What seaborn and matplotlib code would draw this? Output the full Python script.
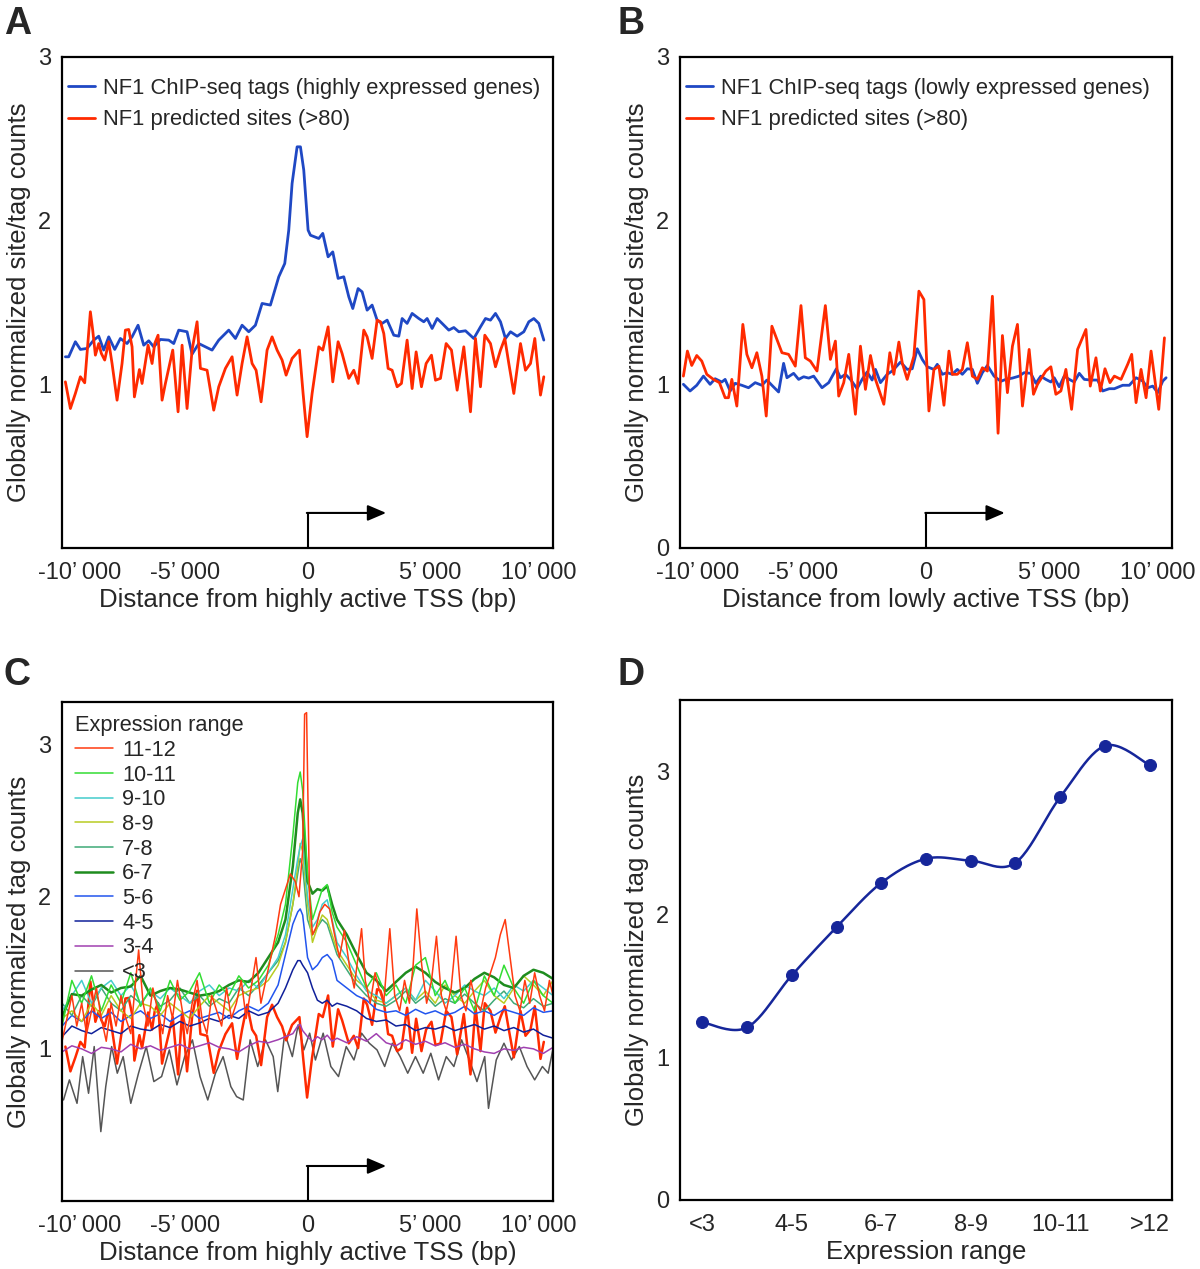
import numpy as np
import matplotlib
matplotlib.use("Agg")
import matplotlib.pyplot as plt
import matplotlib.transforms as mtransforms
from matplotlib.ticker import FixedLocator
import seaborn as sns

# ---------------- data ----------------
x_ticks = [-10000, -5000, 0, 5000, 10000]
x_tick_labels = ["-10\u2019\u2009000", "-5\u2019\u2009000", "0", "5\u2019\u2009000", "10\u2019\u2009000"]

# Panel A: highly expressed genes
a_chip_x = [-9864, -9728, -9457, -9253, -8982, -8710, -8506, -8303, -8099, -7854, -7624, -7352, -7148, -6904,
            -6673, -6469, -6266, -5994, -5654, -5451, -5247, -4908, -4704, -4432, -4161, -3889, -3617, -3210,
            -2938, -2667, -2395, -2124, -1852, -1513, -1173, -929, -766, -630, -426, -290, -155, 22, 117, 457,
            620, 837, 1027, 1244, 1475, 1679, 1842, 2059, 2222, 2426, 2629, 2833, 3037, 3241, 3512, 3716, 3852,
            4055, 4259, 4531, 4734, 4870, 5074, 5278, 5481, 5753, 5957, 6160, 6432, 6771, 7043, 7247, 7450, 7654,
            7858, 8061, 8265, 8537, 8808, 9012, 9216, 9419, 9623]
a_chip_y = [1.168, 1.168, 1.260, 1.213, 1.219, 1.270, 1.294, 1.209, 1.290, 1.213, 1.280, 1.249, 1.290, 1.361,
            1.239, 1.266, 1.229, 1.274, 1.270, 1.249, 1.331, 1.321, 1.184, 1.249, 1.229, 1.209, 1.270, 1.331,
            1.280, 1.361, 1.321, 1.361, 1.494, 1.484, 1.657, 1.738, 1.942, 2.227, 2.451, 2.451, 2.309, 1.942,
            1.911, 1.891, 1.922, 1.779, 1.809, 1.647, 1.657, 1.535, 1.463, 1.585, 1.565, 1.453, 1.484, 1.392,
            1.372, 1.392, 1.300, 1.294, 1.402, 1.372, 1.433, 1.402, 1.382, 1.402, 1.341, 1.402, 1.372, 1.331,
            1.347, 1.321, 1.327, 1.280, 1.351, 1.402, 1.392, 1.433, 1.382, 1.280, 1.321, 1.294, 1.321, 1.382,
            1.402, 1.372, 1.270]
a_pred_x = [-9864, -9660, -9457, -9253, -9077, -8846, -8751, -8642, -8506, -8398, -8262, -8099, -7963, -7759,
            -7556, -7420, -7284, -7148, -7053, -6849, -6741, -6496, -6333, -6225, -6089, -5926, -5790, -5491,
            -5274, -5111, -4908, -4704, -4500, -4364, -4093, -3821, -3617, -3346, -3074, -2871, -2667, -2463,
            -2259, -2096, -1893, -1648, -1445, -1241, -1037, -874, -630, -331, -182, -19, 185, 457, 620, 837,
            1027, 1244, 1407, 1679, 1883, 2059, 2290, 2426, 2629, 2833, 2969, 3105, 3281, 3444, 3648, 3824,
            4055, 4259, 4422, 4639, 4829, 5047, 5210, 5413, 5644, 5861, 6092, 6364, 6636, 6839, 7043, 7219,
            7450, 7654, 7858, 8034, 8197, 8401, 8673, 8876, 9080, 9256, 9487, 9623]
a_pred_y = [1.015, 0.852, 0.944, 1.046, 1.009, 1.443, 1.331, 1.178, 1.249, 1.188, 1.148, 1.260, 1.127, 0.903,
            1.127, 1.331, 1.335, 1.229, 0.923, 1.090, 1.005, 1.239, 1.127, 1.249, 1.300, 0.903, 1.005, 1.209,
            0.832, 1.239, 0.852, 1.209, 1.382, 1.097, 1.086, 0.842, 0.985, 1.097, 1.168, 0.934, 1.127, 1.290,
            1.127, 1.086, 0.893, 1.209, 1.290, 1.209, 1.148, 1.056, 1.158, 1.209, 0.944, 0.680, 0.944, 1.229,
            1.209, 1.351, 1.015, 1.260, 1.188, 1.036, 1.086, 1.005, 1.331, 1.290, 1.158, 1.392, 1.382, 1.310,
            1.097, 1.086, 0.985, 1.005, 1.270, 0.974, 1.198, 0.985, 1.127, 1.178, 1.025, 1.036, 1.249, 1.209,
            0.964, 1.229, 0.832, 1.280, 0.985, 1.300, 1.249, 1.107, 1.209, 1.280, 1.127, 0.944, 1.249, 1.086,
            1.127, 1.280, 0.934, 1.046]

# Panel B: lowly expressed genes
b_chip_x = [-9864, -9593, -9321, -9049, -8778, -8574, -8303, -8167, -7963, -7759, -7488, -7216, -6945, -6673,
            -6469, -6266, -5994, -5790, -5654, -5383, -5179, -4975, -4772, -4568, -4229, -3957, -3645, -3482,
            -3278, -3074, -2803, -2599, -2395, -2192, -2056, -1852, -1580, -1377, -1037, -766, -562, -358, -155,
            49, 321, 457, 660, 864, 1068, 1271, 1475, 1679, 1883, 2086, 2290, 2494, 2765, 3037, 3241, 3512, 3784,
            3987, 4259, 4463, 4666, 4870, 5074, 5210, 5413, 5617, 5821, 6024, 6228, 6432, 6703, 6975, 7179, 7450,
            7654, 7994, 8265, 8537, 8808, 9012, 9216, 9419, 9623, 9759]
b_chip_y = [1.000, 0.959, 0.994, 1.050, 1.000, 1.034, 1.014, 1.030, 0.959, 1.006, 0.994, 0.979, 1.010, 0.994,
            1.026, 0.994, 0.953, 1.128, 1.040, 1.067, 1.030, 1.046, 1.038, 1.050, 0.979, 1.010, 1.095, 1.040,
            1.061, 1.030, 0.973, 1.030, 1.075, 1.026, 1.091, 1.010, 1.061, 1.081, 1.136, 1.091, 1.095, 1.217,
            1.152, 1.107, 1.091, 1.122, 1.061, 1.071, 1.061, 1.091, 1.061, 1.095, 1.091, 1.006, 1.071, 1.115,
            1.050, 1.018, 1.030, 1.038, 1.050, 1.071, 1.067, 1.006, 1.050, 1.030, 1.014, 1.040, 0.985, 1.050,
            1.030, 1.014, 1.067, 1.030, 1.026, 1.026, 0.959, 0.973, 0.973, 0.994, 0.994, 1.040, 1.020, 0.979,
            0.989, 0.949, 1.020, 1.040]
b_pred_x = [-9864, -9701, -9525, -9321, -9117, -8914, -8642, -8398, -8167, -8031, -7895, -7691, -7447, -7284,
            -7080, -6877, -6673, -6496, -6266, -6062, -5858, -5587, -5315, -5084, -4908, -4704, -4432, -4093,
            -3889, -3685, -3550, -3346, -3142, -2871, -2667, -2463, -2259, -2056, -1716, -1472, -1309, -1105,
            -969, -766, -494, -290, -87, 117, 321, 525, 728, 932, 1068, 1271, 1475, 1679, 1883, 2086, 2290, 2494,
            2697, 2833, 2928, 3105, 3308, 3512, 3716, 3920, 4191, 4368, 4531, 4870, 5074, 5278, 5481, 5685, 5916,
            6160, 6500, 6676, 6907, 7084, 7274, 7477, 7654, 7926, 8197, 8360, 8537, 8740, 8944, 9148, 9460, 9691]
b_pred_y = [1.050, 1.203, 1.115, 1.176, 1.142, 1.061, 1.030, 1.010, 0.918, 0.918, 1.030, 0.867, 1.366, 1.183,
            1.101, 1.193, 1.050, 0.806, 1.355, 1.274, 1.193, 1.183, 1.111, 1.481, 1.162, 1.142, 1.081, 1.481,
            1.152, 1.264, 0.928, 1.010, 1.183, 0.817, 1.233, 0.969, 1.176, 1.030, 0.878, 1.193, 1.061, 1.258,
            1.132, 1.030, 1.172, 1.569, 1.518, 0.837, 1.091, 1.111, 0.872, 1.203, 1.061, 1.061, 1.091, 1.254,
            1.050, 1.030, 1.101, 1.081, 1.538, 1.071, 0.701, 1.298, 0.949, 1.233, 1.366, 0.867, 1.213, 0.939,
            1.000, 1.081, 1.107, 0.939, 0.959, 1.091, 0.847, 1.213, 1.335, 0.989, 1.162, 0.959, 1.095, 1.010,
            1.050, 1.030, 1.122, 1.183, 0.888, 1.091, 0.918, 1.203, 0.847, 1.284]

# Panel C: ChIP-seq tags by expression range
c_grid_x = [-10000, -9600, -9200, -8800, -8400, -8000, -7600, -7200, -6800, -6400, -6000, -5600, -5200, -4800,
            -4400, -4000, -3600, -3200, -2800, -2400, -2000, -1600, -1200, -900, -600, -400, -300, -200, 0, 200,
            400, 600, 800, 1000, 1200, 1600, 2000, 2400, 2800, 3200, 3600, 4000, 4400, 4800, 5200, 5600, 6000,
            6400, 6800, 7200, 7600, 8000, 8400, 8800, 9200, 9600, 10000]
c_10_11 = [1.15, 1.45, 1.30, 1.48, 1.25, 1.42, 1.30, 1.50, 1.28, 1.40, 1.25, 1.45, 1.32, 1.38, 1.50, 1.30, 1.42,
           1.35, 1.48, 1.40, 1.45, 1.55, 1.75, 1.95, 2.40, 2.75, 2.82, 2.70, 2.15, 1.85, 1.95, 2.05, 2.08, 1.90,
           1.80, 1.70, 1.55, 1.40, 1.50, 1.35, 1.42, 1.30, 1.55, 1.60, 1.35, 1.45, 1.30, 1.40, 1.25, 1.48, 1.35,
           1.55, 1.40, 1.30, 1.45, 1.35, 1.30]
c_9_10 = [1.25, 1.35, 1.45, 1.30, 1.40, 1.45, 1.35, 1.42, 1.30, 1.38, 1.33, 1.40, 1.35, 1.30, 1.38, 1.42, 1.35,
          1.40, 1.38, 1.45, 1.40, 1.50, 1.60, 1.75, 2.05, 2.25, 2.33, 2.38, 2.00, 1.80, 1.85, 1.95, 1.98, 1.85,
          1.70, 1.60, 1.48, 1.38, 1.35, 1.30, 1.35, 1.40, 1.32, 1.45, 1.38, 1.30, 1.35, 1.42, 1.38, 1.35, 1.40,
          1.33, 1.42, 1.38, 1.45, 1.40, 1.35]
c_8_9 = [1.20, 1.25, 1.18, 1.30, 1.22, 1.35, 1.25, 1.20, 1.30, 1.28, 1.22, 1.30, 1.25, 1.20, 1.28, 1.35, 1.30,
         1.25, 1.35, 1.38, 1.40, 1.45, 1.55, 1.70, 1.95, 2.20, 2.35, 2.30, 1.95, 1.70, 1.80, 1.88, 1.85, 1.75,
         1.65, 1.55, 1.45, 1.40, 1.32, 1.30, 1.35, 1.40, 1.32, 1.38, 1.30, 1.42, 1.35, 1.30, 1.38, 1.45, 1.35,
         1.30, 1.40, 1.48, 1.42, 1.35, 1.45]
c_7_8 = [1.30, 1.22, 1.35, 1.28, 1.40, 1.30, 1.25, 1.35, 1.30, 1.38, 1.28, 1.32, 1.40, 1.30, 1.35, 1.28, 1.33,
         1.30, 1.40, 1.35, 1.42, 1.50, 1.58, 1.70, 1.95, 2.15, 2.25, 2.20, 1.85, 1.75, 1.80, 1.85, 1.82, 1.72,
         1.62, 1.52, 1.42, 1.35, 1.30, 1.28, 1.32, 1.38, 1.30, 1.35, 1.28, 1.33, 1.30, 1.36, 1.30, 1.25, 1.32,
         1.38, 1.30, 1.27, 1.33, 1.28, 1.30]
c_6_7 = [1.21, 1.36, 1.35, 1.39, 1.42, 1.37, 1.40, 1.41, 1.48, 1.35, 1.38, 1.40, 1.39, 1.37, 1.35, 1.36, 1.38,
         1.42, 1.45, 1.44, 1.50, 1.60, 1.70, 1.85, 2.20, 2.55, 2.64, 2.55, 2.10, 2.02, 2.05, 2.04, 2.07, 1.95,
         1.85, 1.75, 1.62, 1.50, 1.45, 1.38, 1.44, 1.50, 1.54, 1.50, 1.44, 1.40, 1.37, 1.40, 1.46, 1.50, 1.47,
         1.42, 1.40, 1.48, 1.52, 1.50, 1.46]
c_5_6 = [1.15, 1.22, 1.18, 1.25, 1.20, 1.24, 1.18, 1.22, 1.25, 1.20, 1.23, 1.18, 1.22, 1.25, 1.20, 1.22, 1.24,
         1.20, 1.25, 1.28, 1.25, 1.30, 1.42, 1.62, 1.82, 1.90, 1.92, 1.88, 1.60, 1.52, 1.55, 1.60, 1.62, 1.58,
         1.45, 1.40, 1.35, 1.32, 1.26, 1.24, 1.25, 1.22, 1.26, 1.23, 1.25, 1.22, 1.24, 1.28, 1.23, 1.25, 1.22,
         1.26, 1.24, 1.22, 1.27, 1.24, 1.25]
c_4_5 = [1.08, 1.15, 1.12, 1.10, 1.14, 1.12, 1.10, 1.15, 1.13, 1.12, 1.16, 1.14, 1.18, 1.15, 1.17, 1.20, 1.18,
         1.22, 1.20, 1.25, 1.22, 1.24, 1.30, 1.40, 1.52, 1.58, 1.58, 1.55, 1.50, 1.40, 1.32, 1.30, 1.32, 1.28,
         1.30, 1.28, 1.25, 1.20, 1.18, 1.19, 1.15, 1.16, 1.12, 1.14, 1.13, 1.15, 1.12, 1.14, 1.16, 1.13, 1.15,
         1.12, 1.14, 1.11, 1.13, 1.09, 1.07]
c_3_4 = [0.98, 1.02, 1.00, 0.97, 1.01, 1.00, 0.98, 1.03, 1.00, 1.02, 0.99, 1.01, 1.03, 1.00, 1.02, 1.04, 1.01,
         1.00, 0.98, 1.02, 1.05, 1.04, 1.06, 1.08, 1.10, 1.15, 1.16, 1.12, 1.08, 1.05, 1.08, 1.06, 1.09, 1.05,
         1.07, 1.04, 1.08, 1.05, 1.10, 1.04, 1.02, 1.06, 1.03, 1.05, 1.02, 1.04, 1.01, 1.03, 1.00, 0.98, 0.97,
         1.00, 0.99, 1.01, 1.00, 0.97, 1.01]
c_top_x = [-10000, -9800, -9600, -9400, -9200, -9000, -8800, -8600, -8400, -8200, -8000, -7800, -7600, -7400,
           -7200, -7000, -6880, -6700, -6500, -6300, -6100, -5900, -5700, -5500, -5300, -5100, -4900, -4700,
           -4500, -4300, -4100, -3900, -3700, -3500, -3300, -3100, -2900, -2700, -2500, -2300, -2100, -1900,
           -1700, -1500, -1300, -1100, -900, -700, -500, -350, -200, -120, -40, 20, 80, 200, 350, 500, 700, 900,
           1100, 1300, 1500, 1700, 1900, 2050, 2200, 2350, 2550, 2750, 2900, 3100, 3350, 3550, 3750, 3950, 4150,
           4300, 4450, 4650, 4850, 5050, 5250, 5450, 5650, 5850, 6050, 6250, 6450, 6650, 6850, 7050, 7250, 7450,
           7650, 7850, 8050, 8250, 8450, 8650, 8850, 9050, 9250, 9450, 9650, 9850, 10000]
c_11_12 = [1.05, 1.20, 1.35, 1.15, 1.30, 1.10, 1.25, 1.40, 1.20, 1.05, 1.30, 1.15, 1.35, 1.20, 1.10, 1.45, 1.65,
           1.30, 1.15, 1.40, 1.25, 1.10, 1.35, 1.20, 1.45, 1.25, 1.10, 1.30, 1.45, 1.20, 1.10, 1.35, 1.25, 1.15,
           1.40, 1.20, 1.30, 1.45, 1.20, 1.40, 1.60, 1.30, 1.45, 1.60, 1.75, 1.95, 2.05, 2.15, 2.10, 2.00, 2.30,
           3.20, 3.21, 2.60, 2.00, 1.75, 1.80, 1.90, 1.95, 1.92, 1.75, 1.60, 1.78, 1.55, 1.40, 1.60, 1.79, 1.45,
           1.30, 1.50, 1.40, 1.30, 1.79, 1.35, 1.25, 1.45, 1.30, 1.55, 1.92, 1.55, 1.30, 1.45, 1.74, 1.35, 1.25,
           1.40, 1.74, 1.35, 1.25, 1.45, 1.30, 1.25, 1.40, 1.50, 1.60, 1.75, 1.85, 1.60, 1.35, 1.25, 1.45, 1.30,
           1.50, 1.35, 1.25, 1.45, 1.35]
c_low_x = [-9940, -9700, -9390, -9160, -8920, -8690, -8420, -8220, -7980, -7750, -7510, -7200, -6885, -6570,
           -6260, -5945, -5630, -5320, -5005, -4690, -4380, -4065, -3750, -3440, -3125, -2890, -2620, -2340,
           -2030, -1715, -1400, -1214, -930, -620, -384, -150, 86, 320, 635, 948, 1260, 1575, 1890, 2200, 2515,
           2830, 3140, 3455, 3770, 4080, 4395, 4710, 5020, 5335, 5650, 5960, 6275, 6590, 6900, 7215, 7370, 7685,
           8000, 8310, 8625, 8940, 9250, 9565, 9800, 9987]
c_lt3 = [0.664, 0.796, 0.642, 0.949, 0.708, 1.015, 0.456, 0.752, 1.015, 0.840, 0.949, 0.642, 0.840, 1.015,
         0.785, 0.818, 0.993, 0.763, 0.949, 1.059, 0.818, 0.664, 0.840, 0.949, 0.752, 0.686, 0.664, 1.059,
         0.884, 1.059, 0.949, 0.719, 1.103, 0.949, 1.158, 0.993, 1.103, 0.927, 1.103, 0.884, 0.818, 1.015,
         0.927, 1.103, 1.037, 0.993, 0.884, 1.037, 0.949, 0.840, 0.949, 0.840, 0.971, 0.796, 0.949, 0.884,
         1.059, 0.927, 0.785, 0.949, 0.609, 0.927, 1.037, 0.927, 1.015, 0.884, 0.796, 0.884, 0.840, 0.993]

c_ranges = ["11-12", "10-11", "9-10", "8-9", "7-8", "6-7", "5-6", "4-5", "3-4", "<3"]
c_colors = ["#ff3a10", "#33dd33", "#44cccc", "#b8cc22", "#3faa77", "#1e8c1e", "#2255ee", "#10209a",
            "#a040b0", "#555555"]

# Panel D: mean tag counts per expression range
d_categories = ["<3", "3-4", "4-5", "5-6", "6-7", "7-8", "8-9", "9-10", "10-11", "11-12", ">12"]
d_values = [1.244, 1.208, 1.573, 1.910, 2.220, 2.389, 2.375, 2.361, 2.820, 3.179, 3.044]

BLUE = "#1f48c4"
RED = "#ff2a00"
NAVY = "#16269a"
LABEL_SIZE = 18.5
TICK_SIZE = 17


def frame_axes(ax, ytop, labelled):
    ax.set_ylim(0, ytop)
    yt = np.arange(0, ytop + 1e-6, 0.5)
    ax.set_yticks(yt)
    ax.set_yticklabels([f"{t:g}" if t in labelled else "" for t in yt])
    for sp in ax.spines.values():
        sp.set_visible(True)
        sp.set_color("black")
        sp.set_linewidth(1.6)
    ax.tick_params(direction="out", length=5, width=1.2, labelsize=TICK_SIZE, pad=3, color="black")


def profile_axes(ax, xlabel, ytop, labelled, ylabel, arrow_y):
    frame_axes(ax, ytop, labelled)
    ax.set_xlim(-10000, 10000)
    ax.set_xticks(x_ticks)
    ax.set_xticklabels(x_tick_labels)
    ax.tick_params(axis="x", pad=5)
    # end labels sit a little inside the axis ends, like the original
    fig = ax.figure
    labs = ax.get_xticklabels()
    labs[0].set_transform(labs[0].get_transform() + mtransforms.ScaledTranslation(13 / 72, 0, fig.dpi_scale_trans))
    labs[-1].set_transform(labs[-1].get_transform() + mtransforms.ScaledTranslation(-10 / 72, 0, fig.dpi_scale_trans))
    ax.set_xlabel(xlabel, fontsize=LABEL_SIZE, labelpad=3)
    ax.set_ylabel(ylabel, fontsize=LABEL_SIZE, labelpad=5)
    # TSS arrow
    ax.plot([0, 0], [0, arrow_y], color="black", lw=1.5, solid_capstyle="butt")
    ax.annotate("", xy=(3200, arrow_y), xytext=(-30, arrow_y),
                arrowprops=dict(arrowstyle="-|>,head_length=0.75,head_width=0.32", color="black",
                                lw=1.5, shrinkA=0, shrinkB=0, mutation_scale=15))


def catmull_rom(xs, ys, n=24):
    pts = np.column_stack([xs, ys]).astype(float)
    p = np.vstack([pts[0], pts, pts[-1]])
    t = np.linspace(0, 1, n, endpoint=False)[:, None]
    segs = []
    for i in range(1, len(p) - 2):
        p0, p1, p2, p3 = p[i - 1], p[i], p[i + 1], p[i + 2]
        segs.append(0.5 * (2 * p1 + (p2 - p0) * t + (2 * p0 - 5 * p1 + 4 * p2 - p3) * t ** 2
                           + (3 * p1 - p0 - 3 * p2 + p3) * t ** 3))
    segs.append(pts[-1:])
    return np.vstack(segs)


sns.set_style("white")
plt.rcParams["font.family"] = ["Liberation Sans", "DejaVu Sans"]

fig = plt.figure(figsize=(12, 12.69), dpi=100)
ax_a = fig.add_axes([0.0517, 0.5682, 0.4092, 0.3869])
ax_b = fig.add_axes([0.5667, 0.5682, 0.4100, 0.3869])
ax_c = fig.add_axes([0.0517, 0.0536, 0.4092, 0.3932])
ax_d = fig.add_axes([0.5667, 0.0544, 0.4100, 0.3940])

legend_kw = dict(loc="upper left", bbox_to_anchor=(-0.014, 0.985), frameon=False, fontsize=15.8,
                 handlelength=1.2, handletextpad=0.4, labelspacing=0.5, borderaxespad=0.2)

# ---- A ----
sns.lineplot(x=a_chip_x, y=a_chip_y, ax=ax_a, color=BLUE, lw=2.0,
             label="NF1 ChIP-seq tags (highly expressed genes)")
sns.lineplot(x=a_pred_x, y=a_pred_y, ax=ax_a, color=RED, lw=2.0, label="NF1 predicted sites (>80)")
profile_axes(ax_a, "Distance from highly active TSS (bp)", 3, [1, 2, 3],
             "Globally normalized site/tag counts", 0.214)
ax_a.legend(**legend_kw)

# ---- B ----
sns.lineplot(x=b_chip_x, y=b_chip_y, ax=ax_b, color=BLUE, lw=2.0,
             label="NF1 ChIP-seq tags (lowly expressed genes)")
sns.lineplot(x=b_pred_x, y=b_pred_y, ax=ax_b, color=RED, lw=2.0, label="NF1 predicted sites (>80)")
profile_axes(ax_b, "Distance from lowly active TSS (bp)", 3, [0, 1, 2, 3],
             "Globally normalized site/tag counts", 0.214)
ax_b.legend(**legend_kw)

# ---- C ----
c_series = {"10-11": c_10_11, "9-10": c_9_10, "8-9": c_8_9, "7-8": c_7_8, "6-7": c_6_7,
            "5-6": c_5_6, "4-5": c_4_5, "3-4": c_3_4}
colour_of = dict(zip(c_ranges, c_colors))
sns.lineplot(x=c_low_x, y=c_lt3, ax=ax_c, color=colour_of["<3"], lw=1.1, label="<3")
sns.lineplot(x=a_pred_x, y=a_pred_y, ax=ax_c, color=RED, lw=1.8, label="_pred")
for name in ["3-4", "4-5", "5-6", "7-8", "8-9", "9-10", "6-7", "10-11"]:
    sns.lineplot(x=c_grid_x, y=c_series[name], ax=ax_c, color=colour_of[name],
                 lw=1.8 if name == "6-7" else 1.1, label=name)
sns.lineplot(x=c_top_x, y=c_11_12, ax=ax_c, color=colour_of["11-12"], lw=1.1, label="11-12")
profile_axes(ax_c, "Distance from highly active TSS (bp)", 3.28, [1, 2, 3],
             "Globally normalized tag counts", 0.23)
handles, labels = ax_c.get_legend_handles_labels()
lookup = dict(zip(labels, handles))
ax_c.legend([lookup[n] for n in c_ranges], c_ranges, title="Expression range", loc="upper left",
            bbox_to_anchor=(0.0, 1.0), frameon=False, fontsize=15.7, title_fontsize=15.7,
            handlelength=1.75, handletextpad=0.4, labelspacing=0.17, borderaxespad=0.2,
            alignment="left")

# ---- D ----
d_pos = np.arange(len(d_categories))
curve = catmull_rom(d_pos, d_values)
ax_d.plot(curve[:, 0], curve[:, 1], color=NAVY, lw=1.8)
sns.scatterplot(x=d_pos, y=d_values, ax=ax_d, color=NAVY, s=75, edgecolor=NAVY, zorder=3)
frame_axes(ax_d, 3.5, [0, 1, 2, 3])
ax_d.set_xlim(-0.5, 10.5)
ax_d.set_xticks(d_pos[::2])
ax_d.set_xticklabels(d_categories[::2])
ax_d.xaxis.set_minor_locator(FixedLocator(np.arange(-0.5, 10.6, 1.0)))
ax_d.tick_params(axis="x", which="major", length=0, pad=10)
ax_d.tick_params(axis="x", which="minor", direction="out", length=6, width=1.2)
ax_d.set_xlabel("Expression range", fontsize=LABEL_SIZE, labelpad=3)
ax_d.set_ylabel("Globally normalized tag counts", fontsize=LABEL_SIZE, labelpad=5)

for letter, (fx, fy) in zip("ABCD", [(0.003, 0.995), (0.515, 0.995), (0.003, 0.482), (0.515, 0.482)]):
    fig.text(fx, fy, letter, fontsize=27, fontweight="bold", va="top", ha="left")

fig.savefig("out.png", dpi=100)
